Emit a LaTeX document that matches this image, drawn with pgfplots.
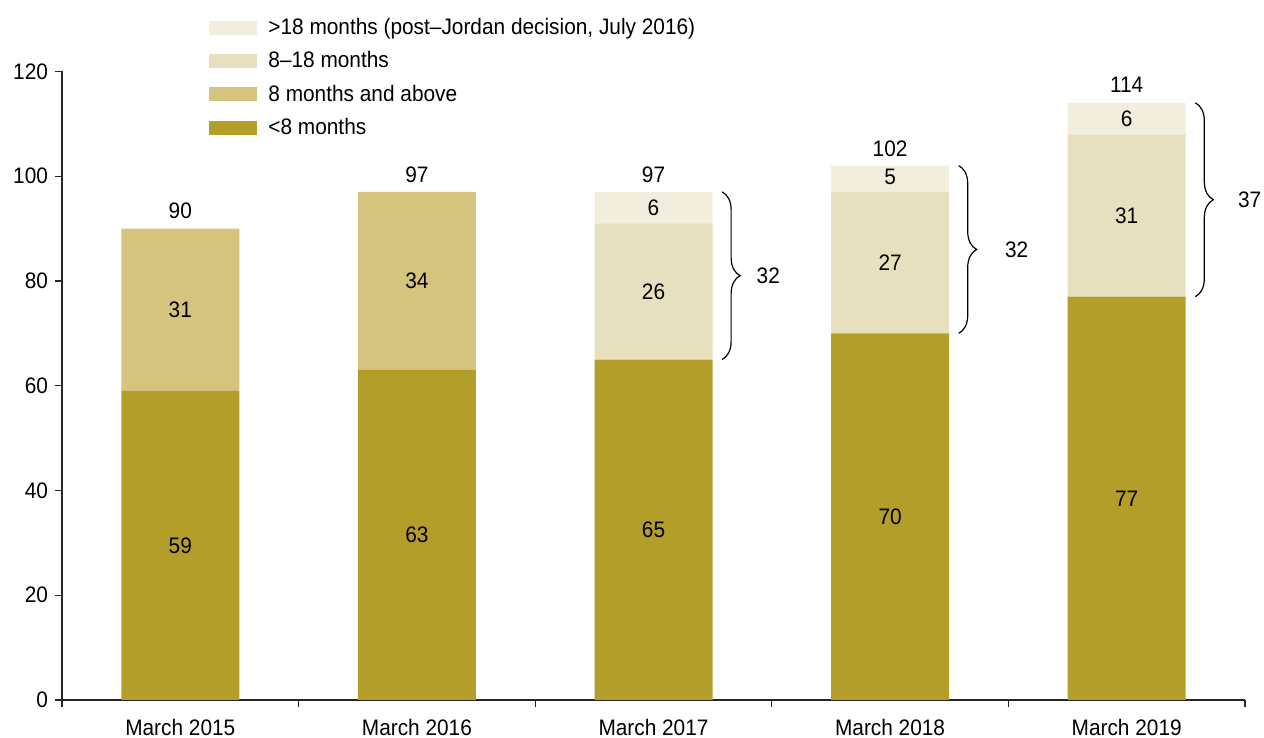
\documentclass[border=0pt]{standalone}
\usepackage{fontspec}
\setmainfont{Liberation Sans}[FakeStretch=0.93]
\usepackage{pgfplots}
\pgfplotsset{compat=1.18}
\usetikzlibrary{decorations.pathreplacing}
\definecolor{cA}{RGB}{179,158,41}
\definecolor{cB}{RGB}{212,196,126}
\definecolor{cC}{RGB}{231,224,190}
\definecolor{cD}{RGB}{242,238,222}
\begin{document}
\begin{tikzpicture}[font=\fontsize{11.2}{13}\selectfont]
\useasboundingbox (-31pt,-19pt) rectangle (601pt,350pt);
\begin{axis}[
  at={(0,0)}, anchor=south west,
  scale only axis, width=591.5pt, height=314.3pt,
  clip=false,
  xmin=-0.5, xmax=4.5, ymin=0, ymax=120,
  ybar stacked, bar width=59pt,
  axis x line*=bottom, axis y line*=left,
  axis line style={-, line width=0.8pt, black!85},
  tick align=outside, major tick length=3.5pt,
  tick style={black!85, line width=0.6pt},
  ytick={0,20,...,120},
  /pgf/number format/assume math mode=true,
  xtick={-0.5,0.5,1.5,2.5,3.5,4.5}, xticklabels={},
  extra x ticks={0,1,2,3,4},
  extra x tick labels={March 2015,March 2016,March 2017,March 2018,March 2019},
  extra x tick style={major tick length=0pt, xticklabel style={inner ysep=1pt, yshift=-8.3pt}},
  every axis plot post/.append style={legend image code/.code={\fill[##1] (0pt,-3.5pt) rectangle (24pt,3.5pt); \path (27.5pt,0pt);}},
  reverse legend,
  legend style={at={(0.1243,1.0913)}, anchor=north west, draw=none, fill=none,
    inner sep=0pt, row sep=3pt, legend cell align=left,
    font=\fontsize{11.2}{13}\selectfont},
  after end axis/.code={
    \node at (axis cs:0,29.5) {59};
    \node at (axis cs:1,31.5) {63};
    \node at (axis cs:2,32.5) {65};
    \node at (axis cs:3,35) {70};
    \node at (axis cs:4,38.5) {77};
    \node at (axis cs:0,74.5) {31};
    \node at (axis cs:1,80) {34};
    \node at (axis cs:2,78) {26};
    \node at (axis cs:3,83.5) {27};
    \node at (axis cs:4,92.5) {31};
    \node at (axis cs:2,94) {6};
    \node at (axis cs:3,99.8) {5};
    \node at (axis cs:4,111) {6};
  },
]
\addplot[fill=cA, draw=none] coordinates {(0,59)(1,63)(2,65)(3,70)(4,77)};
\addplot[fill=cB, draw=none] coordinates {(0,31)(1,34)(2,0)(3,0)(4,0)};
\addplot[fill=cC, draw=none] coordinates {(0,0)(1,0)(2,26)(3,27)(4,31)};
\addplot[fill=cD, draw=none] coordinates {(0,0)(1,0)(2,6)(3,5)(4,6)};
\legend{{<8 months},{8 months and above},{8--18 months},{>18 months (post--Jordan decision, July 2016)}}
% totals
\node at (axis cs:0,93.3) {90};
\node at (axis cs:1,100.3) {97};
\node at (axis cs:2,100.3) {97};
\node at (axis cs:3,105.3) {102};
\node at (axis cs:4,117.5) {114};
% braces
\draw[decorate, decoration={brace, amplitude=9pt}, line width=0.6pt] (axis cs:2.29,97) -- (axis cs:2.29,65);
\draw[decorate, decoration={brace, amplitude=9pt}, line width=0.6pt] (axis cs:3.29,102) -- (axis cs:3.29,70);
\draw[decorate, decoration={brace, amplitude=9pt}, line width=0.6pt] (axis cs:4.29,114) -- (axis cs:4.29,77);
\node at (axis cs:2.485,81) {32};
\node at (axis cs:3.535,86) {32};
\node at (axis cs:4.52,95.5) {37};
\end{axis}
\end{tikzpicture}
\end{document}
